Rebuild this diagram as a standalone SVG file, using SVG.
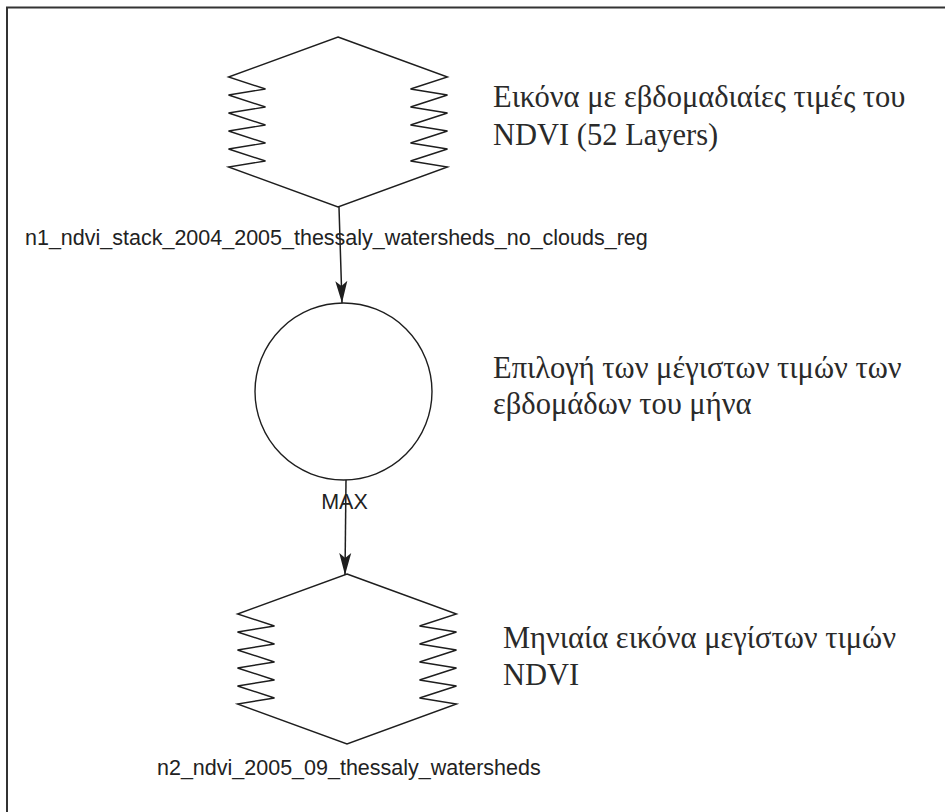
<svg xmlns="http://www.w3.org/2000/svg" xmlns:xlink="http://www.w3.org/1999/xlink" width="945" height="812" viewBox="0 0 945 812">
<style>
.shape{fill:none;stroke:#1e1e1e;stroke-width:1.4;stroke-linejoin:miter}
.lbl{font-family:"Liberation Sans",Arial,sans-serif;font-size:21.5px;fill:#222}
.note{font-family:"Liberation Serif","Times New Roman",serif;font-size:30.5px;fill:#2a2a2a}
.conn{stroke:#1e1e1e;stroke-width:1.5;fill:none}
.frame{stroke:#333;stroke-width:2;fill:none}
</style>
<defs>
<path id="raster" d="M0,0 L109.5,40 L72.5,52 L109.5,58 L72.5,70 L109.5,76 L72.5,88 L109.5,94 L72.5,106 L109.5,112 L72.5,124 L109.5,130 L0,170 L-109.5,130 L-72.5,124 L-109.5,112 L-72.5,106 L-109.5,94 L-72.5,88 L-109.5,76 L-72.5,70 L-109.5,58 L-72.5,52 L-109.5,40 Z"/>
<marker id="arr" markerUnits="userSpaceOnUse" markerWidth="24" markerHeight="14" viewBox="0 -7 24 14" refX="22" refY="0" orient="auto">
<path d="M0,-6 L22,0 L0,6 L5,0 Z" fill="#1e1e1e"/>
</marker>
</defs>
<rect width="945" height="812" fill="#ffffff"/>
<path class="frame" d="M7,812 L7,7.5 L945,7.5"/>
<g id="connectors">
<path class="conn" d="M339,207 L342,303" marker-end="url(#arr)"/>
<path class="conn" d="M346,480 L345,575" marker-end="url(#arr)"/>
</g>
<g id="node-n1">
<use xlink:href="#raster" href="#raster" class="shape" transform="translate(338,37)"/>
<text class="lbl" x="25" y="245">n1_ndvi_stack_2004_2005_thessaly_watersheds_no_clouds_reg</text>
</g>
<g id="node-max">
<circle class="shape" cx="343.5" cy="391.5" r="88.5"/>
<text class="lbl" x="344.5" y="509" text-anchor="middle">MAX</text>
</g>
<g id="node-n2">
<use xlink:href="#raster" href="#raster" class="shape" transform="translate(347,574)"/>
<text class="lbl" x="157" y="775">n2_ndvi_2005_09_thessaly_watersheds</text>
</g>
<g id="note-n1">
<text class="note" x="493" y="107">Εικόνα με εβδομαδιαίες τιμές του</text>
<text class="note" x="493" y="145">NDVI (52 Layers)</text>
</g>
<g id="note-max">
<text class="note" x="493" y="378">Επιλογή των μέγιστων τιμών των</text>
<text class="note" x="493" y="414">εβδομάδων του μήνα</text>
</g>
<g id="note-n2">
<text class="note" x="503" y="648">Μηνιαία εικόνα μεγίστων τιμών</text>
<text class="note" x="503" y="685">NDVI</text>
</g>
</svg>
